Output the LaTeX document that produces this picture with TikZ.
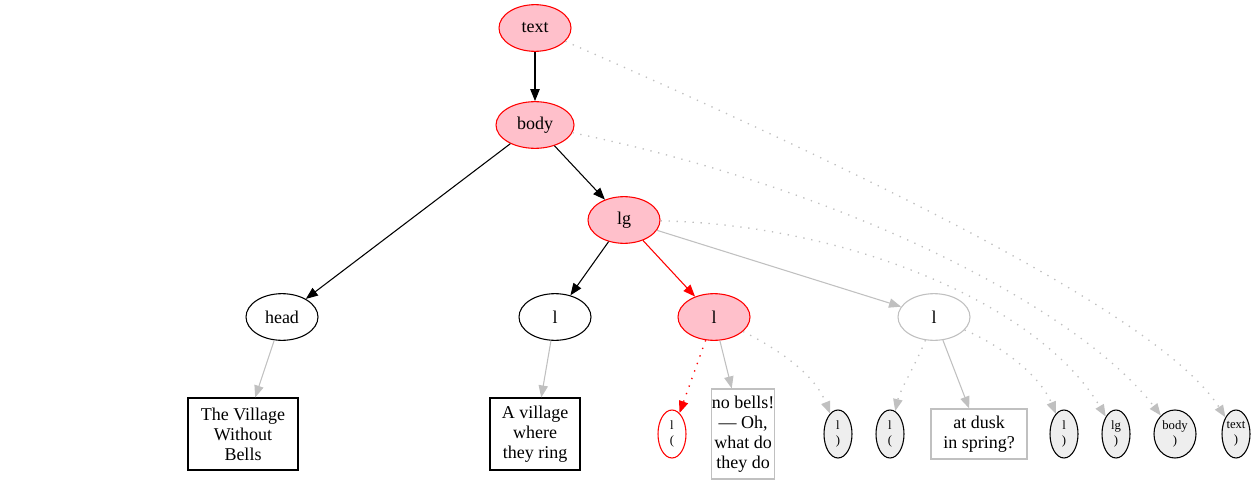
\documentclass[tikz,border=0pt]{standalone}
\usepackage{fontspec}
\setmainfont{Liberation Serif}
\usetikzlibrary{arrows.meta,shapes.geometric}
\definecolor{pinkf}{HTML}{FFC0CB}
\definecolor{gr}{HTML}{C0C0C0}
\definecolor{lf}{HTML}{EEEEEE}
\tikzset{
  big/.style={font=\fontsize{13.5}{15}\selectfont, align=center, inner sep=0pt},
  ell/.style={big, ellipse, draw, line width=0.8pt, minimum width=54pt, minimum height=35pt},
  hot/.style={ell, draw=red, fill=pinkf},
  cold/.style={ell, draw=gr, fill=white},
  plain/.style={ell, draw=black},
  boxb/.style={big, rectangle, draw=black, line width=0.8pt},
  boxg/.style={big, rectangle, draw=gr, line width=0.8pt},
  sm/.style={ellipse, draw=black, fill=lf, line width=0.8pt, inner sep=0pt, minimum width=21pt, minimum height=36pt, align=center, font=\fontsize{9.5}{11.5}\selectfont},
  smred/.style={sm, draw=red, fill=white},
  tip/.style={-{Triangle[length=9pt,width=7pt]}},
  eb/.style={tip, draw=black, line width=0.8pt},
  er/.style={tip, draw=red, line width=0.8pt},
  eg/.style={tip, draw=gr, line width=0.8pt},
  dotg/.style={tip, draw=gr, line width=1pt, dash pattern=on 1pt off 5pt},
  dotr/.style={tip, draw=red, line width=1pt, dash pattern=on 1pt off 5pt},
}
\begin{document}
\begin{tikzpicture}[x=0.75pt,y=-0.75pt]
\useasboundingbox (0,0) rectangle (1257,485);
% top nodes
\node[hot] (text) at (535,28) {text};
\node[hot, minimum width=58.5pt] (body) at (535,125) {body};
\node[hot] (lg) at (624,220) {lg};
\node[plain] (head) at (282,317) {head};
\node[plain] (l1) at (555,317) {l};
\node[hot] (l2) at (714,317) {l};
\node[cold] (l3) at (934,317) {l};
% bottom
\node[boxb, minimum width=82.5pt, minimum height=54pt] (b1) at (243,434) {The Village\\Without\\Bells};
\node[boxb, minimum width=67.5pt, minimum height=54pt] (b2) at (535,434) {A village\\where\\they ring};
\node[smred] (o1) at (672,434) {l\\(};
\node[boxg, minimum width=46.5pt, minimum height=67.5pt] (b3) at (743,434) {no bells!\\— Oh,\\what do\\they do};
\node[sm] (c1) at (838,434) {l\\)};
\node[sm] (o2) at (890,434) {l\\(};
\node[boxg, minimum width=72pt, minimum height=37.5pt] (b4) at (979,434) {at dusk\\in spring?};
\node[sm] (c2) at (1064,434) {l\\)};
\node[sm] (clg) at (1116,434) {lg\\)};
\node[sm, minimum width=31.5pt] (cbody) at (1175,434) {body\\)};
\node[sm] (ctext) at (1236,434) {text\\)};
% edges
\draw[eb] (text) -- (body);
\draw[eb] (body) -- (head);
\draw[eb] (body) -- (lg);
\draw[eb] (lg) -- (l1);
\draw[er] (lg) -- (l2);
\draw[eg] (lg) -- (l3);
\draw[eg] (head) -- (b1);
\draw[eg] (l1) -- (b2);
\draw[dotr] (l2) -- (o1);
\draw[eg] (l2) -- (b3);
\draw[dotg] (l2) .. controls (780,350) and (815,375) .. (c1);
\draw[dotg] (l3) .. controls (918,360) and (900,390) .. (o2);
\draw[eg] (l3) -- (b4);
\draw[dotg] (l3) .. controls (1000,345) and (1040,375) .. (c2);
\draw[dotg] (lg) .. controls (850,225) and (1040,305) .. (clg);
\draw[dotg] (body) .. controls (850,190) and (1080,310) .. (cbody);
\draw[dotg] (text) .. controls (950,210) and (1170,330) .. (ctext);
\end{tikzpicture}
\end{document}
